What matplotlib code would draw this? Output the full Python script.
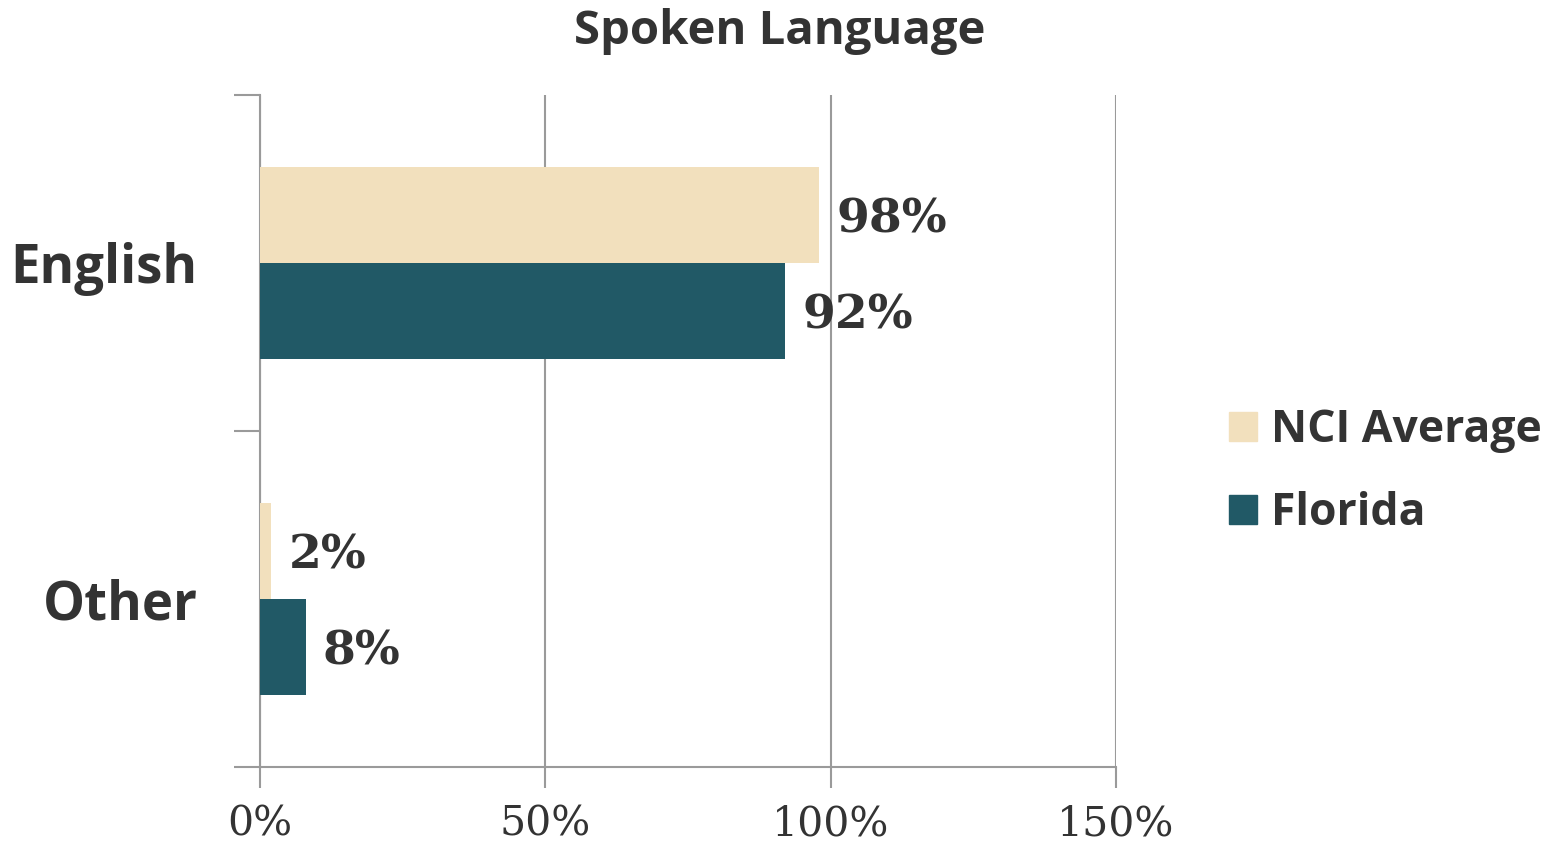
import matplotlib.pyplot as plt
from matplotlib.patches import Patch
from matplotlib.ticker import FixedLocator, FuncFormatter

categories = ['English', 'Other']
series_names = ['NCI Average', 'Florida']
nci_average = [98, 2]
florida = [92, 8]
x_ticks = [0, 50, 100, 150]

colors = ['#F2E0BD', '#215966']
text_color = '#333333'
grid_color = '#9A9A9A'

fig = plt.figure(figsize=(15.6, 8.5), dpi=100)
ax = fig.add_axes([260 / 1560, 83 / 850, 856 / 1560, 672 / 850])

h = 0.2857
pos = list(range(len(categories)))
for vals, off, col in [(nci_average, -h / 2, colors[0]), (florida, h / 2, colors[1])]:
    ypos = [p + off for p in pos]
    ax.barh(ypos, vals, height=h, color=col, zorder=3)
    for y, v in zip(ypos, vals):
        ax.text(v + 3.0, y + 0.012, f'{v}%', va='center', ha='left', fontsize=34,
                fontweight='bold', family='DejaVu Serif', color=text_color)

ax.set_xlim(0, 150)
ax.set_ylim(1.5, -0.5)

ax.xaxis.set_major_locator(FixedLocator(x_ticks))
ax.xaxis.set_major_formatter(FuncFormatter(lambda v, _: f'{int(v)}%'))
ax.tick_params(axis='x', which='major', length=15, width=1.5, color=grid_color,
               labelsize=29.5, labelcolor=text_color, pad=12)
for lab in ax.get_xticklabels():
    lab.set_family('DejaVu Serif')

ax.set_yticks(pos)
ax.set_yticklabels(categories)
ax.tick_params(axis='y', which='major', length=0, pad=45, labelsize=38, labelcolor=text_color)
for lab in ax.get_yticklabels():
    lab.set_family('Open Sans')
    lab.set_fontweight('bold')
ax.yaxis.set_minor_locator(FixedLocator([-0.5, 0.5, 1.5]))
ax.tick_params(axis='y', which='minor', length=19, width=1.5, color=grid_color)

ax.grid(axis='x', color=grid_color, linewidth=1.5, zorder=0)
for s in ['top', 'right']:
    ax.spines[s].set_visible(False)
for s in ['left', 'bottom']:
    ax.spines[s].set_color(grid_color)
    ax.spines[s].set_linewidth(1.5)

fig.text(0.5, 0.963, 'Spoken Language', ha='center', va='center', fontsize=34,
         fontweight='bold', family='Open Sans', color=text_color)

handles = [Patch(color=c) for c in colors]
fig.legend(handles, series_names, loc='center left', bbox_to_anchor=(1189 / 1560, 1 - 472 / 850),
           frameon=False, labelcolor=text_color, handlelength=0.62, handleheight=0.62,
           handletextpad=0.32, labelspacing=0.85, prop={'family': 'Open Sans', 'weight': 'bold', 'size': 32})

fig.savefig('out.png', dpi=100)
